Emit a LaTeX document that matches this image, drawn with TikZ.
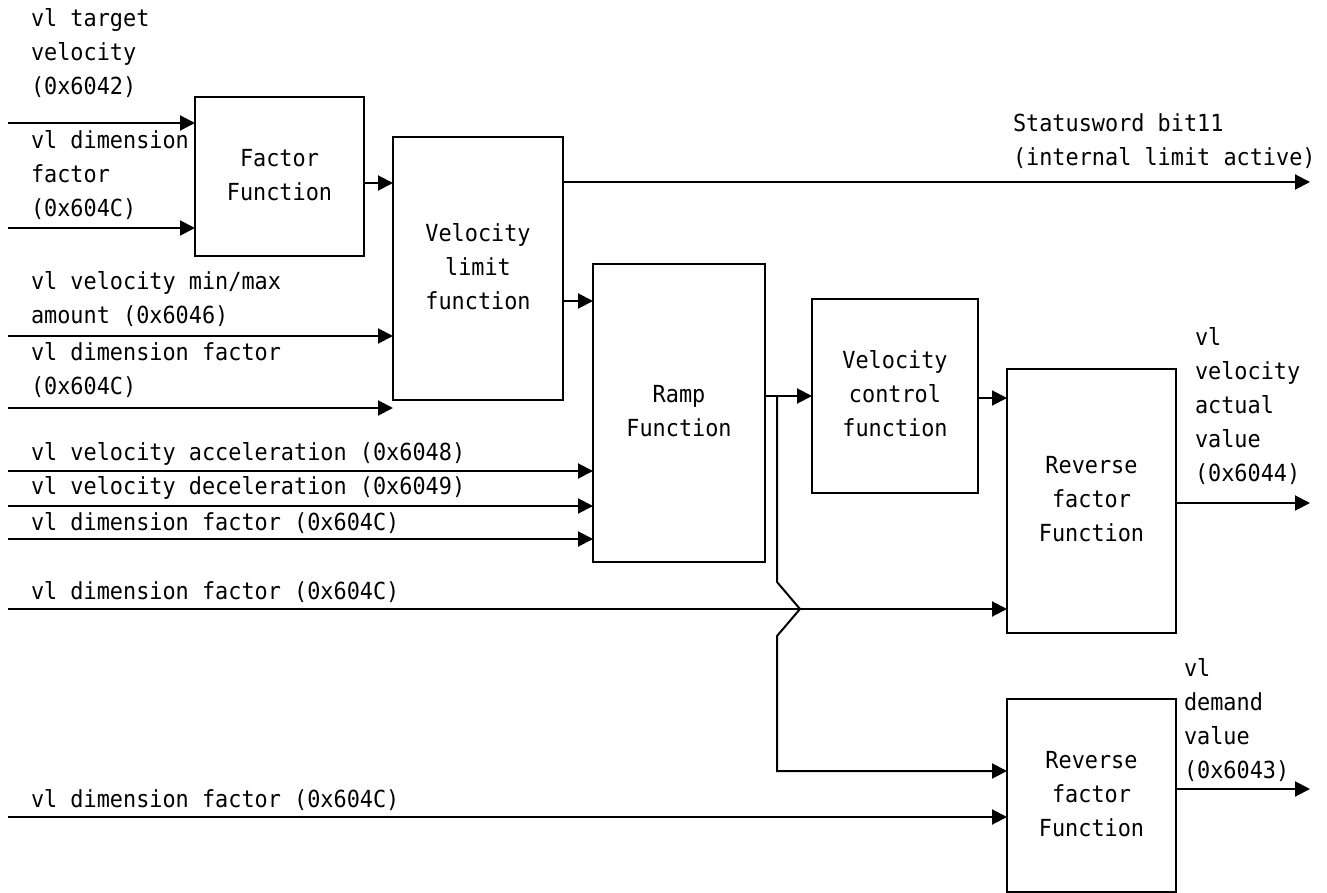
\documentclass[tikz,border=0pt]{standalone}
\usepackage{fontspec}
\newfontfamily\dfont[FakeStretch=0.93]{DejaVu Sans Mono}
\usetikzlibrary{arrows.meta}
\newcommand\mlines[1]{\begin{tabular}[t]{@{}l@{}}#1\end{tabular}}
\newcommand\clines[1]{\begin{tabular}{@{}c@{}}#1\end{tabular}}
\begin{document}
\begin{tikzpicture}[x=1pt,y=-1pt,
  every node/.style={font=\dfont\fontsize{23.5}{34}\selectfont, inner sep=0pt, outer sep=0pt},
  fbox/.style={draw, line width=2pt, rectangle},
  lbl/.style={anchor=base west},
  arr/.style={line width=2pt, -{Triangle[length=15pt,width=15pt]}},
  wire/.style={line width=2pt}]
\path[fill=white] (0,0) rectangle (1327,893);
\useasboundingbox (0,0) rectangle (1327,893);

% boxes
\node[fbox, minimum width=169pt, minimum height=159pt] (ff) at (279.5,176.5) {\clines{Factor\\Function}};
\node[fbox, minimum width=170pt, minimum height=263pt] (vl) at (478,268.5) {\clines{Velocity\\limit\\function}};
\node[fbox, minimum width=172pt, minimum height=298pt] (ramp) at (679,413) {\clines{Ramp\\Function}};
\node[fbox, minimum width=166pt, minimum height=194pt] (vc) at (895,396) {\clines{Velocity\\control\\function}};
\node[fbox, minimum width=169pt, minimum height=264pt] (rf1) at (1091.5,501) {\clines{Reverse\\factor\\Function}};
\node[fbox, minimum width=169pt, minimum height=193pt] (rf2) at (1091.5,795.5) {\clines{Reverse\\factor\\Function}};

% labels
\node[lbl] (l1) at (31,27) {\mlines{vl target\\velocity\\(0x6042)}};
\node[lbl] (l2) at (31,149) {\mlines{vl dimension\\factor\\(0x604C)}};
\node[lbl] (l3) at (31,289) {\mlines{vl velocity min/max\\amount (0x6046)}};
\node[lbl] (l4) at (31,360) {\mlines{vl dimension factor\\(0x604C)}};
\node[lbl] (l5) at (31,460) {vl velocity acceleration (0x6048)};
\node[lbl] (l6) at (31,494) {vl velocity deceleration (0x6049)};
\node[lbl] (l7) at (31,530) {vl dimension factor (0x604C)};
\node[lbl] (l8) at (31,599) {vl dimension factor (0x604C)};
\node[lbl] (l9) at (31,807) {vl dimension factor (0x604C)};
\node[lbl] (l10) at (1013,132) {\mlines{Statusword bit11\\(internal limit active)}};
\node[lbl] (l11) at (1195,345) {\mlines{vl\\velocity\\actual\\value\\(0x6044)}};
\node[lbl] (l12) at (1184,676) {\mlines{vl\\demand\\value\\(0x6043)}};

% free ends
\coordinate (i1) at (8,123);
\coordinate (i2) at (8,228);
\coordinate (i3) at (8,336);
\coordinate (i4) at (8,408);
\coordinate (i5) at (8,471);
\coordinate (i6) at (8,506);
\coordinate (i7) at (8,539);
\coordinate (i8) at (8,609);
\coordinate (i9) at (8,817);
\coordinate (o0) at (1310,182);
\coordinate (o1) at (1310,503);
\coordinate (o2) at (1310,789);

% connectors
\draw[arr] (i1) -- (i1 -| ff.west);
\draw[arr] (i2) -- (i2 -| ff.west);
\draw[arr] (ff.east |- 0,183) -- (vl.west |- 0,183);
\draw[arr] (i3) -- (i3 -| vl.west);
\draw[arr] (i4) -- (i4 -| vl.west);
\draw[arr] (vl.east |- o0) -- (o0);
\draw[arr] (vl.east |- 0,301) -- (ramp.west |- 0,301);
\draw[arr] (i5) -- (i5 -| ramp.west);
\draw[arr] (i6) -- (i6 -| ramp.west);
\draw[arr] (i7) -- (i7 -| ramp.west);
\draw[arr] (ramp.east |- vc.west) -- (vc.west);
\coordinate (br) at (777,396);
\draw[arr] (vc.east |- 0,398) -- (rf1.west |- 0,398);
\draw[arr] (br) -- (777,582) -- (800,609) -- (777,636) -- (777,771) -- (rf2.west |- 0,771);
\draw[arr] (i8) -- (i8 -| rf1.west);
\draw[arr] (i9) -- (i9 -| rf2.west);
\draw[arr] (rf1.east |- o1) -- (o1);
\draw[arr] (rf2.east |- o2) -- (o2);
\end{tikzpicture}
\end{document}
